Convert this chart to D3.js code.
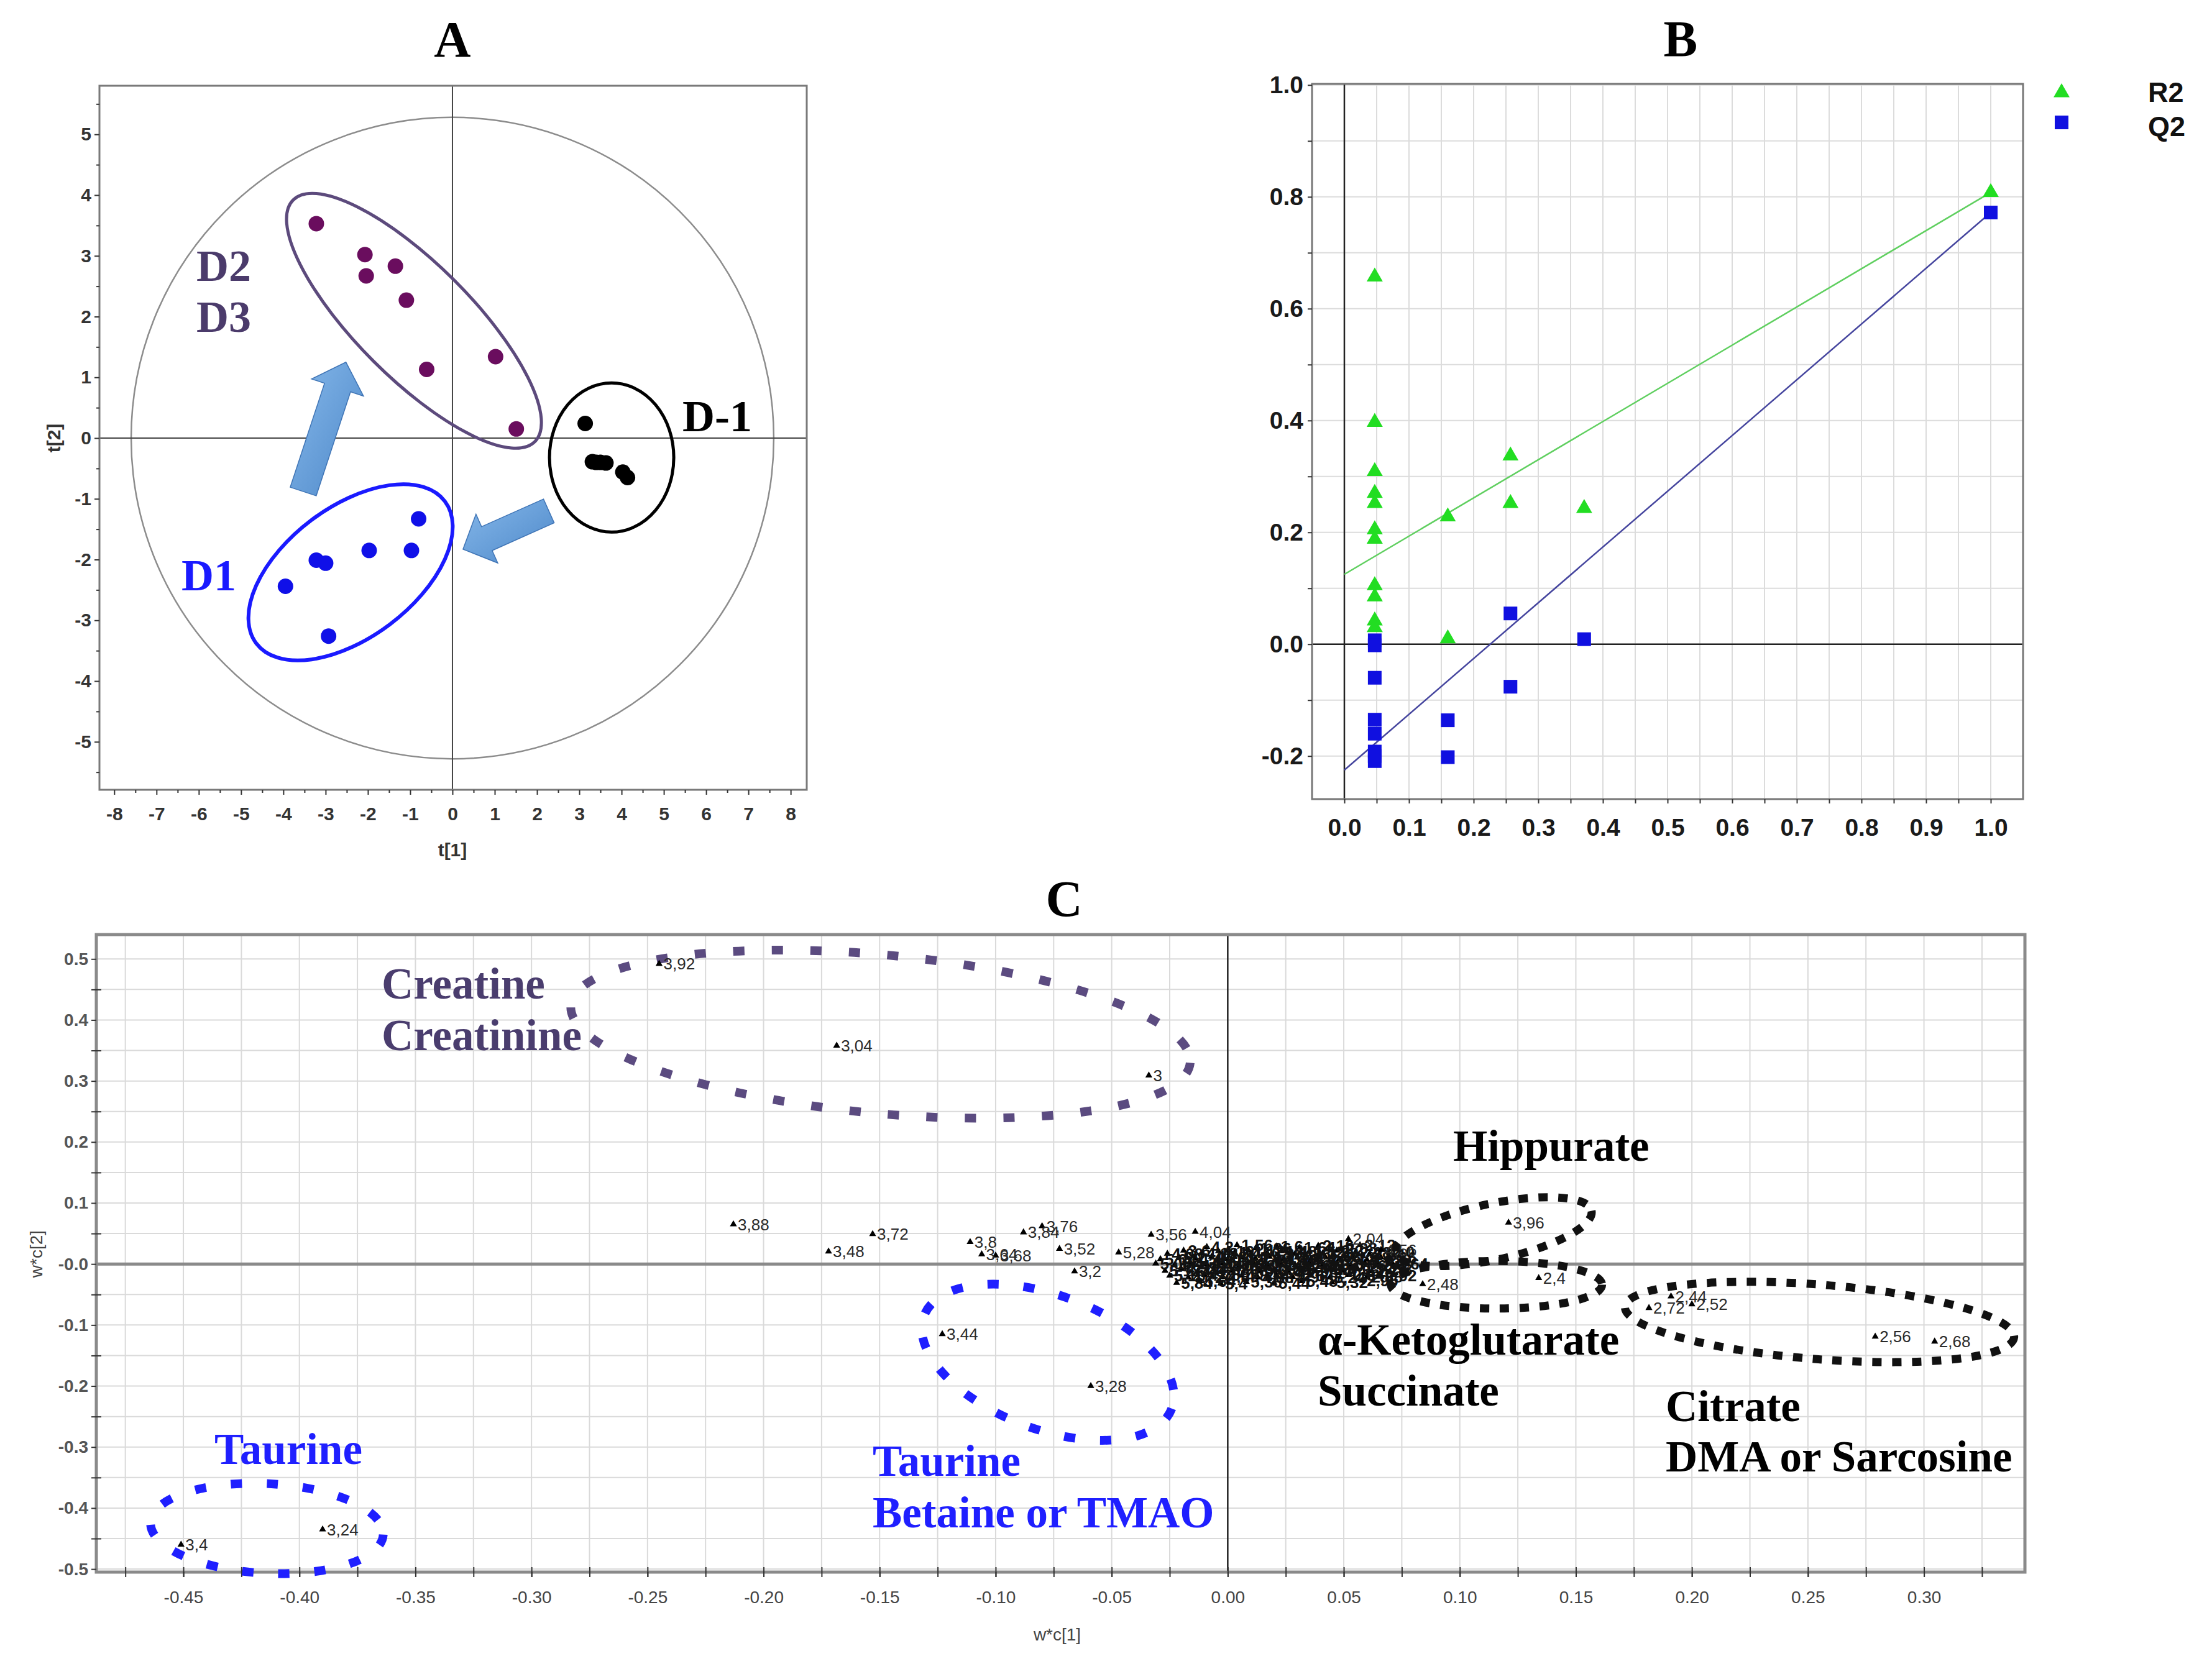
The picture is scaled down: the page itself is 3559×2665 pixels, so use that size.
<!DOCTYPE html>
<html>
<head>
<meta charset="utf-8">
<script src="https://cdnjs.cloudflare.com/ajax/libs/d3/7.8.5/d3.min.js"></script>
<style>
  body { margin: 0; background: #fff; }
  svg { display: block; }
</style>
</head>
<body>
<script>
const WIDTH = 3559;
const HEIGHT = 2665;

// ---------- panel A : PCA scores ----------
const d23T1 = [-3.22, -2.07, -2.04, -1.35, -1.09, -0.61, 1.02, 1.51];
const d23T2 = [3.53, 3.02, 2.67, 2.83, 2.27, 1.13, 1.34, 0.15];
const d1T1 = [-0.80, -0.97, -1.97, -3.22, -3.00, -3.95, -2.93];
const d1T2 = [-1.33, -1.85, -1.85, -2.01, -2.06, -2.44, -3.26];
const dm1T1 = [3.14, 3.31, 3.40, 3.50, 3.63, 4.03, 4.14];
const dm1T2 = [0.24, -0.39, -0.40, -0.40, -0.41, -0.56, -0.65];
const aTicksX = [-8, -7, -6, -5, -4, -3, -2, -1, 0, 1, 2, 3, 4, 5, 6, 7, 8];
const aTicksY = [-5, -4, -3, -2, -1, 0, 1, 2, 3, 4, 5];

// ---------- panel B : permutation test ----------
const r2X = [0.047, 0.047, 0.047, 0.047, 0.047, 0.047, 0.047, 0.047, 0.047, 0.047, 0.047,
             0.16, 0.16, 0.257, 0.257, 0.371, 1.0];
const r2Y = [0.657, 0.397, 0.309, 0.27, 0.252, 0.205, 0.188, 0.105, 0.085, 0.042, 0.03,
             0.228, 0.01, 0.337, 0.252, 0.243, 0.808];
const q2X = [0.047, 0.047, 0.047, 0.047, 0.047, 0.047, 0.047, 0.047,
             0.16, 0.16, 0.257, 0.257, 0.371, 1.0];
const q2Y = [0.007, -0.002, -0.06, -0.135, -0.16, -0.192, -0.2, -0.209,
             -0.136, -0.202, 0.055, -0.076, 0.009, 0.772];
const r2Fit = [[0, 0.125], [1, 0.808]];
const q2Fit = [[0, -0.225], [1, 0.772]];
const bTicksX = [0, 0.1, 0.2, 0.3, 0.4, 0.5, 0.6, 0.7, 0.8, 0.9, 1.0];
const bTicksY = [-0.2, 0, 0.2, 0.4, 0.6, 0.8, 1.0];

// ---------- panel C : loadings w*c[1] / w*c[2] ----------
const namedLab = ["3,92", "3,04", "3", "3,88", "3,72", "3,48", "3,8", "3,84", "3,76", "3,64",
                  "3,68", "3,52", "3,2", "3,44", "3,28", "3,4", "3,24", "3,56", "4,04", "5,28",
                  "2,04", "4,56", "3,96", "2,48", "2,4", "2,44", "2,72", "2,52", "2,56", "2,68"];
const namedX = [-0.245, -0.1685, -0.034, -0.213, -0.153, -0.172, -0.111, -0.088, -0.080, -0.106,
                -0.100, -0.0725, -0.066, -0.123, -0.059, -0.451, -0.390, -0.033, -0.014, -0.047,
                0.052, 0.066, 0.121, 0.084, 0.134, 0.191, 0.1815, 0.200, 0.279, 0.3046];
const namedY = [0.492, 0.358, 0.309, 0.065, 0.049, 0.0205, 0.036, 0.052, 0.062, 0.016,
                0.014, 0.025, -0.012, -0.115, -0.200, -0.460, -0.435, 0.048, 0.053, 0.019,
                0.041, 0.023, 0.068, -0.033, -0.023, -0.053, -0.072, -0.066, -0.119, -0.127];

// dense cloud of bins around the origin
const cloudLab = ["4,2", "1,56", "1,96", "1,6", "1,64", "2,16", "2,08", "2,12",
  "4,08", "3,6", "4,12", "4,16", "1,44", "1,12", "0,96", "1,48", "1,36", "1,52", "1,88", "2,2", "2,28", "2,24", "2,0",
  "5,04", "5,2", "4,48", "4,28", "0,92", "1,0", "1,08", "1,16", "1,28", "1,4", "1,2", "1,68", "1,72", "1,8", "1,92", "2,36",
  "5,08", "4,64", "4,36", "4,44", "0,84", "0,88", "1,04", "1,24", "1,32", "1,76", "1,84", "2,32", "0,8", "0,76", "0,72", "2,6", "2,64",
  "5,12", "4,52", "4,6", "4,68", "0,68", "0,64", "0,6", "0,56", "0,52", "0,48", "0,44", "0,4", "0,36", "0,32", "2,76", "2,8",
  "5,16", "4,72", "4,76", "4,8", "4,84", "4,88", "4,92", "4,96", "5,0", "5,24", "2,84", "2,88", "2,92",
  "5,84", "5,64", "5,4", "5,36", "5,44", "5,48", "5,32", "2,96"];
const cloudX = [-0.009, 0.004, 0.012, 0.021, 0.031, 0.039, 0.049, 0.057,
  -0.026, -0.019, -0.011, -0.004, 0.003, 0.009, 0.017, 0.023, 0.029, 0.035, 0.041, 0.047, 0.055, 0.061, 0.069,
  -0.029, -0.021, -0.014, -0.007, 0.000, 0.006, 0.012, 0.018, 0.024, 0.030, 0.036, 0.042, 0.048, 0.054, 0.060, 0.066,
  -0.031, -0.023, -0.016, -0.009, -0.002, 0.005, 0.011, 0.017, 0.023, 0.029, 0.035, 0.041, 0.047, 0.053, 0.059, 0.065, 0.071,
  -0.027, -0.020, -0.013, -0.006, 0.002, 0.008, 0.014, 0.020, 0.026, 0.032, 0.038, 0.044, 0.050, 0.056, 0.062, 0.068,
  -0.025, -0.017, -0.010, -0.002, 0.006, 0.013, 0.021, 0.028, 0.036, 0.044, 0.052, 0.060, 0.066,
  -0.022, -0.012, -0.003, 0.008, 0.020, 0.032, 0.045, 0.058];
const cloudY = [0.028, 0.031, 0.026, 0.029, 0.027, 0.030, 0.026, 0.031,
  0.017, 0.022, 0.018, 0.021, 0.019, 0.022, 0.018, 0.021, 0.017, 0.020, 0.018, 0.022, 0.019, 0.016, 0.020,
  0.008, 0.011, 0.009, 0.012, 0.008, 0.011, 0.009, 0.012, 0.008, 0.011, 0.009, 0.012, 0.008, 0.010, 0.007, 0.011,
  0.001, -0.002, 0.002, -0.001, 0.001, -0.002, 0.002, -0.001, 0.001, -0.002, 0.002, -0.001, 0.001, -0.002, 0.002, -0.001, 0.001,
  -0.011, -0.008, -0.012, -0.009, -0.011, -0.008, -0.012, -0.009, -0.011, -0.008, -0.012, -0.009, -0.011, -0.008, -0.012, -0.009,
  -0.019, -0.022, -0.018, -0.021, -0.019, -0.022, -0.018, -0.021, -0.019, -0.022, -0.018, -0.021, -0.019,
  -0.031, -0.028, -0.032, -0.029, -0.031, -0.028, -0.030, -0.027];

const cTicksX = [-0.45, -0.40, -0.35, -0.30, -0.25, -0.20, -0.15, -0.10, -0.05, 0, 0.05, 0.10, 0.15, 0.20, 0.25, 0.30];
const cTicksY = [-0.5, -0.4, -0.3, -0.2, -0.1, 0, 0.1, 0.2, 0.3, 0.4, 0.5];
const cTickLabY = ["-0.5", "-0.4", "-0.3", "-0.2", "-0.1", "-0.0", "0.1", "0.2", "0.3", "0.4", "0.5"];

const SANS = "'Liberation Sans', Arial, sans-serif";
const SERIF = "'Liberation Serif', 'Times New Roman', serif";

var translate = function(x, y){
  return "translate(" + x + "," + y + ")";
};

var svg = d3.select('body')
  .append('svg')
  .attr('width', WIDTH)
  .attr('height', HEIGHT)
  .style('background', '#fff');

var defs = svg.append('defs');
var grad = defs.append('linearGradient').attr('id', 'arrowFill')
  .attr('x1', '0%').attr('y1', '0%').attr('x2', '100%').attr('y2', '100%');
grad.append('stop').attr('offset', '0%').attr('stop-color', '#86b8ea');
grad.append('stop').attr('offset', '100%').attr('stop-color', '#4d88c9');

var title = function(txt, x, y){
  svg.append('text')
    .attr('x', x).attr('y', y)
    .attr('text-anchor', 'middle')
    .style('font-family', SERIF)
    .style('font-weight', 'bold')
    .style('font-size', '82px')
    .text(txt);
};

var label = function(g, txt, x, y, color, size){
  g.append('text')
    .attr('x', x).attr('y', y)
    .style('font-family', SERIF)
    .style('font-weight', 'bold')
    .style('font-size', size + 'px')
    .attr('fill', color)
    .text(txt);
};

var styleAxis = function(sel, font, size, weight, color){
  sel.select('.domain').remove();
  sel.selectAll('line').attr('stroke', '#333').attr('stroke-width', 2);
  sel.selectAll('text')
    .style('font-family', font)
    .style('font-size', size + 'px')
    .style('font-weight', weight)
    .attr('fill', color);
};

var ellipse = function(g, cx, cy, rx, ry, ang, color, width, dash){
  var e = g.append('ellipse')
    .attr('cx', 0).attr('cy', 0)
    .attr('rx', rx).attr('ry', ry)
    .attr('transform', translate(cx, cy) + ' rotate(' + ang + ')')
    .attr('fill', 'none')
    .attr('stroke', color)
    .attr('stroke-width', width);
  if (dash) e.attr('stroke-dasharray', dash);
  return e;
};

var blockArrow = function(x1, y1, x2, y2, shaftW, headW, headL){
  var dx = x2 - x1, dy = y2 - y1, L = Math.hypot(dx, dy);
  var ux = dx / L, uy = dy / L, nx = -uy, ny = ux;
  var bx = x2 - ux * headL, by = y2 - uy * headL;
  var pts = [
    [x1 + nx * shaftW / 2, y1 + ny * shaftW / 2],
    [bx + nx * shaftW / 2, by + ny * shaftW / 2],
    [bx + nx * headW / 2, by + ny * headW / 2],
    [x2, y2],
    [bx - nx * headW / 2, by - ny * headW / 2],
    [bx - nx * shaftW / 2, by - ny * shaftW / 2],
    [x1 - nx * shaftW / 2, y1 - ny * shaftW / 2]
  ];
  return 'M' + pts.map(function(p){ return p.join(','); }).join('L') + 'Z';
};

// =====================================================================
// Panel A
// =====================================================================
var ax = d3.scaleLinear().domain([-8.35, 8.38]).range([160, 1298]);
var ay = d3.scaleLinear().domain([-5.79, 5.8]).range([1271, 138]);
var gA = svg.append('g');

title('A', ax(0), 91);

gA.append('ellipse')
  .attr('cx', ax(0)).attr('cy', ay(0))
  .attr('rx', ax(7.6) - ax(0)).attr('ry', ay(0) - ay(5.28))
  .attr('fill', 'none').attr('stroke', '#8c8c8c').attr('stroke-width', 2.5);

gA.append('line').attr('x1', ax.range()[0]).attr('x2', ax.range()[1])
  .attr('y1', ay(0)).attr('y2', ay(0)).attr('stroke', '#444').attr('stroke-width', 2);
gA.append('line').attr('x1', ax(0)).attr('x2', ax(0))
  .attr('y1', ay.range()[0]).attr('y2', ay.range()[1]).attr('stroke', '#444').attr('stroke-width', 2);

gA.append('rect')
  .attr('x', ax.range()[0]).attr('y', ay.range()[1])
  .attr('width', ax.range()[1] - ax.range()[0])
  .attr('height', ay.range()[0] - ay.range()[1])
  .attr('fill', 'none').attr('stroke', '#7a7a7a').attr('stroke-width', 3);

var halfX = d3.range(-8, 8.01, 0.5).filter(function(v){ return v % 1 !== 0; });
var halfY = d3.range(-5.5, 5.51, 0.5).filter(function(v){ return v % 1 !== 0; });

gA.append('g').attr('transform', translate(0, ay.range()[0]))
  .call(d3.axisBottom(ax).tickValues(aTicksX).tickSize(8).tickPadding(20).tickFormat(function(d){ return String(d); }))
  .call(styleAxis, SANS, 30, 'bold', '#333');
gA.append('g').attr('transform', translate(0, ay.range()[0]))
  .call(d3.axisBottom(ax).tickValues(halfX).tickSize(5).tickFormat(''))
  .call(styleAxis, SANS, 10, 'normal', '#333');
gA.append('g').attr('transform', translate(ax.range()[0], 0))
  .call(d3.axisLeft(ay).tickValues(aTicksY).tickSize(8).tickPadding(5).tickFormat(function(d){ return String(d); }))
  .call(styleAxis, SANS, 30, 'bold', '#333');
gA.append('g').attr('transform', translate(ax.range()[0], 0))
  .call(d3.axisLeft(ay).tickValues(halfY).tickSize(5).tickFormat(''))
  .call(styleAxis, SANS, 10, 'normal', '#333');

gA.append('text').attr('x', ax(0)).attr('y', 1378).attr('text-anchor', 'middle')
  .style('font-family', SANS).style('font-weight', 'bold').style('font-size', '30px')
  .attr('fill', '#333').text('t[1]');
gA.append('text').attr('transform', translate(97, ay(0)) + ' rotate(-90)')
  .attr('text-anchor', 'middle')
  .style('font-family', SANS).style('font-weight', 'bold').style('font-size', '30px')
  .attr('fill', '#333').text('t[2]');

// group outlines
ellipse(gA, ax(-0.91), ay(1.93), 275, 92, 45, '#5c4a7c', 5);
ellipse(gA, ax(-2.41), ay(-2.21), 190, 105, -37, '#1a1aff', 6);
ellipse(gA, ax(3.765), ay(-0.32), 100, 120, 0, '#000', 5);

// arrows
gA.append('path')
  .attr('d', blockArrow(ax(-3.53), ay(-0.88), ax(-2.52), ay(1.25), 44, 88, 43))
  .attr('fill', 'url(#arrowFill)').attr('stroke', '#3f74b5').attr('stroke-width', 1.5);
gA.append('path')
  .attr('d', blockArrow(ax(2.28), ay(-1.20), ax(0.25), ay(-1.83), 42, 86, 42))
  .attr('fill', 'url(#arrowFill)').attr('stroke', '#3f74b5').attr('stroke-width', 1.5);

var drawDots = function(xs, ys, color){
  gA.append('g').selectAll('circle')
    .data(xs)
    .enter()
    .append('circle')
    .attr('cx', function(d){ return ax(d); })
    .attr('cy', function(d, i){ return ay(ys[i]); })
    .attr('r', 12.5)
    .attr('fill', color);
};
drawDots(d23T1, d23T2, '#6a0d5e');
drawDots(d1T1, d1T2, '#1010e8');
drawDots(dm1T1, dm1T2, '#000');

label(gA, 'D2', 316, 452, '#4b3b6b', 72);
label(gA, 'D3', 316, 534, '#4b3b6b', 72);
label(gA, 'D1', 292, 950, '#1a1aff', 72);
label(gA, 'D-1', 1098, 694, '#000', 72);

// =====================================================================
// Panel B
// =====================================================================
var bx = d3.scaleLinear().domain([-0.05, 1.05]).range([2111, 3255]);
var by = d3.scaleLinear().domain([-0.277, 1.002]).range([1286, 135]);
var gB = svg.append('g');

title('B', bx(0.52), 90);

gB.append('g').selectAll('line')
  .data(d3.range(-0.05, 1.051, 0.05))
  .enter().append('line')
  .attr('x1', function(d){ return bx(d); }).attr('x2', function(d){ return bx(d); })
  .attr('y1', by.range()[0]).attr('y2', by.range()[1])
  .attr('stroke', '#dcdcdc').attr('stroke-width', 2);
gB.append('g').selectAll('line')
  .data(d3.range(-0.2, 1.001, 0.1))
  .enter().append('line')
  .attr('x1', bx.range()[0]).attr('x2', bx.range()[1])
  .attr('y1', function(d){ return by(d); }).attr('y2', function(d){ return by(d); })
  .attr('stroke', '#dcdcdc').attr('stroke-width', 2);

gB.append('line').attr('x1', bx.range()[0]).attr('x2', bx.range()[1])
  .attr('y1', by(0)).attr('y2', by(0)).attr('stroke', '#222').attr('stroke-width', 2.5);
gB.append('line').attr('x1', bx(0)).attr('x2', bx(0))
  .attr('y1', by.range()[0]).attr('y2', by.range()[1]).attr('stroke', '#222').attr('stroke-width', 2.5);

gB.append('rect')
  .attr('x', bx.range()[0]).attr('y', by.range()[1])
  .attr('width', bx.range()[1] - bx.range()[0])
  .attr('height', by.range()[0] - by.range()[1])
  .attr('fill', 'none').attr('stroke', '#777').attr('stroke-width', 3);

gB.append('g').attr('transform', translate(0, by.range()[0]))
  .call(d3.axisBottom(bx).tickValues(bTicksX).tickSize(7).tickPadding(24).tickFormat(function(d){ return d.toFixed(1); }))
  .call(styleAxis, SANS, 39, 'bold', '#1a1a1a');
gB.append('g').attr('transform', translate(0, by.range()[0]))
  .call(d3.axisBottom(bx).tickValues(d3.range(0.05, 1.0, 0.1)).tickSize(7).tickFormat(''))
  .call(styleAxis, SANS, 10, 'normal', '#222');
gB.append('g').attr('transform', translate(bx.range()[0], 0))
  .call(d3.axisLeft(by).tickValues(bTicksY).tickSize(7).tickPadding(7).tickFormat(function(d){ return d.toFixed(1); }))
  .call(styleAxis, SANS, 39, 'bold', '#1a1a1a');
gB.append('g').attr('transform', translate(bx.range()[0], 0))
  .call(d3.axisLeft(by).tickValues(d3.range(-0.1, 1.0, 0.2)).tickSize(7).tickFormat(''))
  .call(styleAxis, SANS, 10, 'normal', '#222');

var fitLine = d3.line()
  .x(function(d){ return bx(d[0]); })
  .y(function(d){ return by(d[1]); });
gB.append('path').attr('d', fitLine(r2Fit)).attr('fill', 'none')
  .attr('stroke', '#5fcf5f').attr('stroke-width', 2.5);
gB.append('path').attr('d', fitLine(q2Fit)).attr('fill', 'none')
  .attr('stroke', '#45459e').attr('stroke-width', 2.5);

var tri = d3.symbol().type(d3.symbolTriangle).size(290);
gB.append('g').selectAll('path')
  .data(r2X)
  .enter().append('path')
  .attr('d', tri)
  .attr('transform', function(d, i){ return translate(bx(d), by(r2Y[i])); })
  .attr('fill', '#22dd22');
gB.append('g').selectAll('rect')
  .data(q2X)
  .enter().append('rect')
  .attr('x', function(d){ return bx(d) - 11; })
  .attr('y', function(d, i){ return by(q2Y[i]) - 11; })
  .attr('width', 22).attr('height', 22)
  .attr('fill', '#1010e0');

// legend
gB.append('path').attr('d', tri).attr('transform', translate(3317, 149)).attr('fill', '#22dd22');
gB.append('rect').attr('x', 3306).attr('y', 186).attr('width', 22).attr('height', 22).attr('fill', '#1010e0');
gB.append('text').attr('x', 3456).attr('y', 164)
  .style('font-family', SANS).style('font-weight', 'bold').style('font-size', '45px')
  .attr('fill', '#111').text('R2');
gB.append('text').attr('x', 3456).attr('y', 219)
  .style('font-family', SANS).style('font-weight', 'bold').style('font-size', '45px')
  .attr('fill', '#111').text('Q2');

// =====================================================================
// Panel C
// =====================================================================
var cx = d3.scaleLinear().domain([-0.4875, 0.3435]).range([155, 3258]);
var cy = d3.scaleLinear().domain([-0.505, 0.54]).range([2530, 1504]);
var gC = svg.append('g');

title('C', 1712, 1474);

gC.append('g').selectAll('line')
  .data(d3.range(-0.475, 0.3435, 0.025))
  .enter().append('line')
  .attr('x1', function(d){ return cx(d); }).attr('x2', function(d){ return cx(d); })
  .attr('y1', cy.range()[0]).attr('y2', cy.range()[1])
  .attr('stroke', '#dadada').attr('stroke-width', 2);
gC.append('g').selectAll('line')
  .data(d3.range(-0.5, 0.5401, 0.05))
  .enter().append('line')
  .attr('x1', cx.range()[0]).attr('x2', cx.range()[1])
  .attr('y1', function(d){ return cy(d); }).attr('y2', function(d){ return cy(d); })
  .attr('stroke', '#dadada').attr('stroke-width', 2);

gC.append('line').attr('x1', cx(0)).attr('x2', cx(0))
  .attr('y1', cy.range()[0]).attr('y2', cy.range()[1]).attr('stroke', '#222').attr('stroke-width', 2.5);
gC.append('line').attr('x1', cx.range()[0]).attr('x2', cx.range()[1])
  .attr('y1', cy(0)).attr('y2', cy(0)).attr('stroke', '#8a8a8a').attr('stroke-width', 5);

gC.append('rect')
  .attr('x', cx.range()[0]).attr('y', cy.range()[1])
  .attr('width', cx.range()[1] - cx.range()[0])
  .attr('height', cy.range()[0] - cy.range()[1])
  .attr('fill', 'none').attr('stroke', '#8a8a8a').attr('stroke-width', 5);

gC.append('g').attr('transform', translate(0, cy.range()[0]))
  .call(d3.axisBottom(cx).tickValues(cTicksX).tickSize(8).tickPadding(22).tickFormat(function(d){ return d.toFixed(2); }))
  .call(styleAxis, SANS, 28, 'normal', '#444');
gC.append('g').attr('transform', translate(0, cy.range()[0] - 8))
  .call(d3.axisBottom(cx).tickValues(d3.range(-0.475, 0.3435, 0.025)).tickSize(16).tickFormat(''))
  .call(styleAxis, SANS, 10, 'normal', '#444');
gC.append('g').attr('transform', translate(cx.range()[0], 0))
  .call(d3.axisLeft(cy).tickValues(cTicksY).tickSize(8).tickPadding(5).tickFormat(function(d, i){ return cTickLabY[i]; }))
  .call(styleAxis, SANS, 28, 'bold', '#555');
gC.append('g').attr('transform', translate(cx.range()[0] + 8, 0))
  .call(d3.axisLeft(cy).tickValues(d3.range(-0.45, 0.5, 0.1)).tickSize(16).tickFormat(''))
  .call(styleAxis, SANS, 10, 'normal', '#444');

gC.append('text').attr('x', 1701).attr('y', 2640).attr('text-anchor', 'middle')
  .style('font-family', SANS).style('font-size', '28px').attr('fill', '#444').text('w*c[1]');
gC.append('text').attr('transform', translate(68, 2018) + ' rotate(-90)')
  .attr('text-anchor', 'middle')
  .style('font-family', SANS).style('font-size', '28px').attr('fill', '#444').text('w*c[2]');

// dashed outlines
var kx = function(v){ return cx(v) - cx(0); };
var ky = function(v){ return cy(0) - cy(v); };
ellipse(gC, cx(-0.1496), cy(0.3768), kx(0.134), ky(0.130), 5.3, '#5b4b80', 14, '18 44');
ellipse(gC, cx(-0.0775), cy(-0.161), kx(0.057), ky(0.110), 20.5, '#1f1fff', 14, '18 40');
ellipse(gC, cx(-0.414), cy(-0.4335), kx(0.0502), ky(0.0735), 3, '#1f1fff', 14, '18 40');
ellipse(gC, cx(0.1145), cy(0.0530), kx(0.0432), ky(0.046), -12, '#111', 13, '15 17');
ellipse(gC, cx(0.1158), cy(-0.0340), kx(0.0455), ky(0.0390), 0, '#111', 13, '15 17');
ellipse(gC, cx(0.255), cy(-0.095), kx(0.0841), ky(0.0611), 4.5, '#111', 13, '15 17');

// loading points with labels
var smallTri = d3.symbol().type(d3.symbolTriangle).size(55);
var drawLoadings = function(xs, ys, labs, weight, color){
  var g = gC.append('g');
  g.selectAll('path')
    .data(xs)
    .enter().append('path')
    .attr('d', smallTri)
    .attr('transform', function(d, i){ return translate(cx(d), cy(ys[i])); })
    .attr('fill', '#000');
  g.selectAll('text')
    .data(xs)
    .enter().append('text')
    .attr('x', function(d){ return cx(d) + 7; })
    .attr('y', function(d, i){ return cy(ys[i]); })
    .attr('dy', '0.36em')
    .style('font-family', SANS)
    .style('font-size', '26px')
    .style('font-weight', weight)
    .attr('fill', color)
    .text(function(d, i){ return labs[i]; });
};
drawLoadings(cloudX, cloudY, cloudLab, 'bold', '#111');
drawLoadings(namedX, namedY, namedLab, 'normal', '#2a2a2a');

label(gC, 'Creatine', 614, 1607, '#4a3d6e', 71);
label(gC, 'Creatinine', 614, 1690, '#4a3d6e', 71);
label(gC, 'Taurine', 345, 2356, '#1f1fff', 71);
label(gC, 'Taurine', 1404, 2375, '#1f1fff', 71);
label(gC, 'Betaine or TMAO', 1404, 2458, '#1f1fff', 71);
label(gC, 'Hippurate', 2338, 1868, '#000', 71);
label(gC, 'α-Ketoglutarate', 2120, 2180, '#000', 71);
label(gC, 'Succinate', 2120, 2262, '#000', 71);
label(gC, 'Citrate', 2680, 2287, '#000', 71);
label(gC, 'DMA or Sarcosine', 2680, 2368, '#000', 71);
</script>
</body>
</html>
